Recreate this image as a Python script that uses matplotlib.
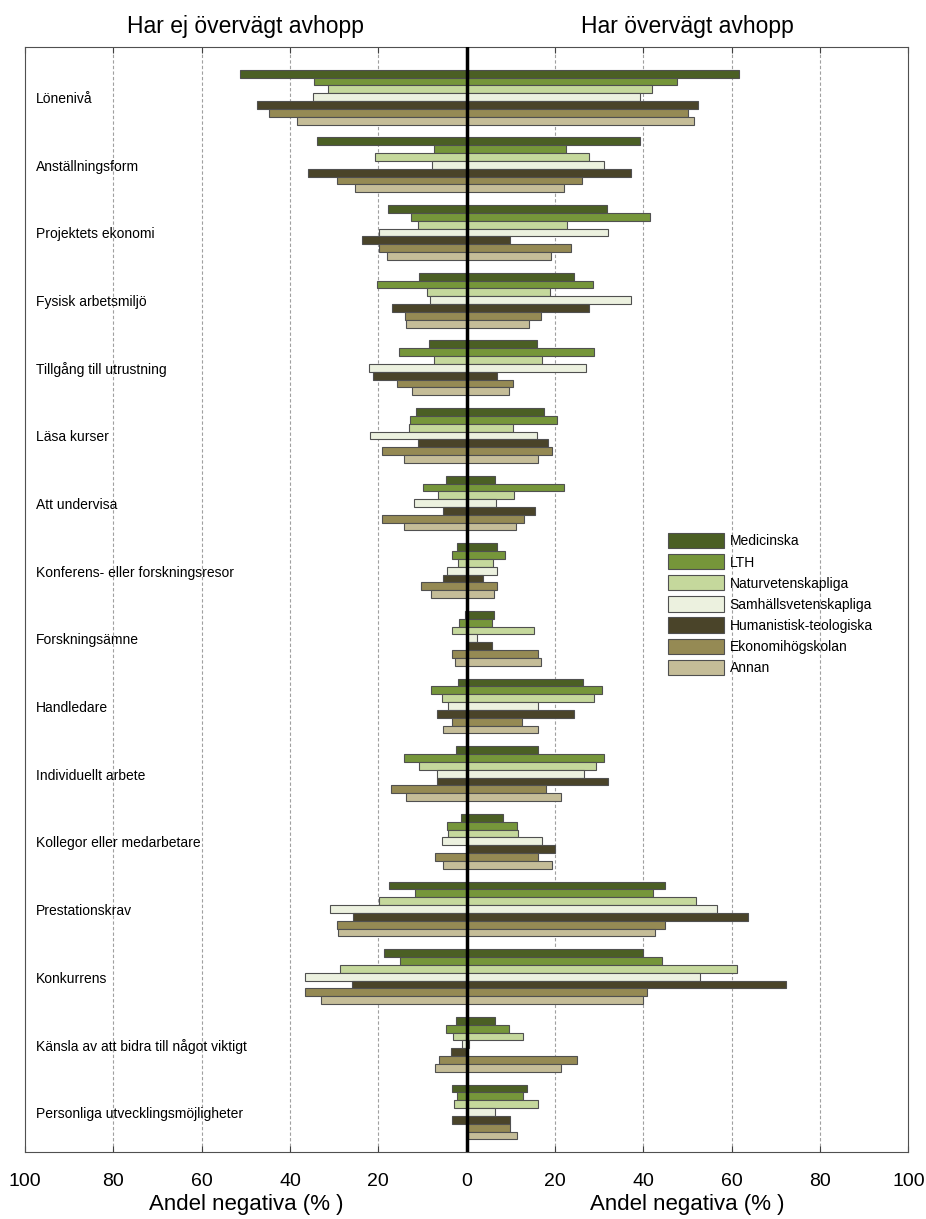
import matplotlib
matplotlib.use("Agg")
import matplotlib.pyplot as plt
import numpy as np

plt.rcParams["font.family"] = ["Liberation Sans", "DejaVu Sans"]

# Categories (top to bottom)
categories = [
    "Lönenivå",
    "Anställningsform",
    "Projektets ekonomi",
    "Fysisk arbetsmiljö",
    "Tillgång till utrustning",
    "Läsa kurser",
    "Att undervisa",
    "Konferens- eller forskningsresor",
    "Forskningsämne",
    "Handledare",
    "Individuellt arbete",
    "Kollegor eller medarbetare",
    "Prestationskrav",
    "Konkurrens",
    "Känsla av att bidra till något viktigt",
    "Personliga utvecklingsmöjligheter",
]

faculties = ["Medicinska", "LTH", "Naturvetenskapliga", "Samhällsvetenskapliga",
             "Humanistisk-teologiska", "Ekonomihögskolan", "Annan"]
colors = ["#4b5f24", "#76963a", "#c5d89c", "#ecf1df", "#4a4429", "#958a54", "#c5bd98"]

# Andel negativa (%) - har ej övervägt avhopp, one list per faculty
not_considered = {
    "Medicinska":            [51.3, 34.0, 17.8, 10.7, 8.6, 11.4, 4.8, 2.2, 0.4, 1.9, 2.5, 1.2, 17.5, 18.7, 2.5, 3.3],
    "LTH":                   [34.6, 7.5, 12.5, 20.4, 15.4, 12.8, 10.0, 3.4, 1.7, 8.0, 14.1, 4.4, 11.7, 15.2, 4.8, 2.2],
    "Naturvetenskapliga":    [31.5, 20.7, 11.1, 9.1, 7.4, 13.1, 6.6, 1.9, 3.4, 5.6, 10.9, 4.3, 19.8, 28.6, 3.1, 2.8],
    "Samhällsvetenskapliga": [34.9, 7.9, 19.8, 8.2, 22.1, 21.8, 12.0, 4.5, 0.0, 4.3, 6.8, 5.6, 30.9, 36.7, 1.0, 0.0],
    "Humanistisk-teologiska":[47.5, 36.0, 23.7, 16.9, 21.2, 11.1, 5.4, 5.4, 0.0, 6.8, 6.8, 0.0, 25.7, 26.0, 3.5, 3.3],
    "Ekonomihögskolan":      [44.8, 29.4, 19.9, 14.0, 15.8, 19.1, 19.1, 10.3, 3.3, 3.3, 17.2, 7.2, 29.4, 36.7, 6.3, 0.0],
    "Annan":                 [38.4, 25.4, 18.1, 13.7, 12.3, 14.1, 14.1, 8.0, 2.6, 5.4, 13.7, 5.4, 29.2, 33.1, 7.2, 0.0],
}

# Andel negativa (%) - har övervägt avhopp
considered = {
    "Medicinska":            [61.6, 39.2, 31.7, 24.3, 16.0, 17.4, 6.3, 6.9, 6.1, 26.3, 16.2, 8.3, 44.9, 39.8, 6.3, 13.7],
    "LTH":                   [47.5, 22.4, 41.4, 28.6, 28.9, 20.5, 22.0, 8.6, 5.8, 30.7, 31.0, 11.3, 42.2, 44.3, 9.6, 12.8],
    "Naturvetenskapliga":    [42.0, 27.7, 22.8, 18.8, 17.1, 10.5, 10.7, 6.0, 15.3, 28.8, 29.2, 11.6, 52.0, 61.2, 12.8, 16.2],
    "Samhällsvetenskapliga": [39.2, 31.1, 32.0, 37.2, 26.9, 16.0, 6.6, 6.8, 2.3, 16.2, 26.6, 17.1, 56.6, 52.9, 0.5, 6.3],
    "Humanistisk-teologiska":[52.3, 37.2, 9.9, 27.8, 6.9, 18.3, 15.4, 3.7, 5.8, 24.3, 32.1, 20.0, 63.7, 72.4, 0.0, 9.9],
    "Ekonomihögskolan":      [50.1, 26.1, 23.7, 16.9, 10.4, 19.4, 13.0, 6.9, 16.2, 12.5, 18.0, 16.2, 44.9, 40.8, 25.0, 9.9],
    "Annan":                 [51.4, 22.0, 19.1, 14.2, 9.6, 16.2, 11.1, 6.2, 16.8, 16.2, 21.3, 19.4, 42.6, 40.0, 21.3, 11.3],
}

xticks = [-100, -80, -60, -40, -20, 0, 20, 40, 60, 80, 100]

fig = plt.figure(figsize=(9.26, 12.19), dpi=100)
ax = fig.add_axes([0.027, 0.055, 0.954, 0.9064])

n_groups = len(categories)
n_series = len(faculties)
group_h = 0.81
bar_h = group_h / n_series
centers = np.arange(n_groups)

for j, name in enumerate(faculties):
    y = centers - group_h / 2 + (j + 0.5) * bar_h
    ax.barh(y, considered[name], height=bar_h, color=colors[j],
            edgecolor="#505050", linewidth=0.8, label=name, zorder=3)
    ax.barh(y, -np.array(not_considered[name]), height=bar_h, color=colors[j],
            edgecolor="#505050", linewidth=0.8, zorder=3)

# category labels inside the axes
for i, cat in enumerate(categories):
    ax.text(-97.6, i + 0.03, cat, ha="left", va="center", fontsize=10, zorder=4)

ax.axvline(0, color="black", linewidth=2.5, zorder=5)
for x in [-80, -60, -40, -20, 20, 40, 60, 80]:
    ax.axvline(x, color="#a0a0a0", linestyle=(0, (3, 2)), linewidth=0.8, zorder=1)

ax.set_xlim(-100, 100)
ax.set_ylim(n_groups - 1 + 0.59, -0.74)
ax.set_xticks(xticks)
ax.set_xticklabels([str(abs(t)) for t in xticks], fontsize=14)
ax.set_yticks([])
ax.tick_params(axis="x", direction="in", top=True, length=4, color="#404040", pad=15)
for s in ax.spines.values():
    s.set_color("#505050")
    s.set_linewidth(0.8)

# titles and axis labels for each half
ax.text(-50, -1.05, "Har ej övervägt avhopp", ha="center", va="center", fontsize=16.5)
ax.text(50, -1.05, "Har övervägt avhopp", ha="center", va="center", fontsize=16.5)
ax.text(-50, 16.37, "Andel negativa (% )", ha="center", va="center", fontsize=16)
ax.text(50, 16.37, "Andel negativa (% )", ha="center", va="center", fontsize=16)

ax.legend(loc="upper left", bbox_to_anchor=(0.722, 0.565), frameon=False,
          fontsize=10, handlelength=4.0, handleheight=1.3, labelspacing=0.42,
          handletextpad=0.4, borderaxespad=0)

plt.savefig("out.png", dpi=100)
